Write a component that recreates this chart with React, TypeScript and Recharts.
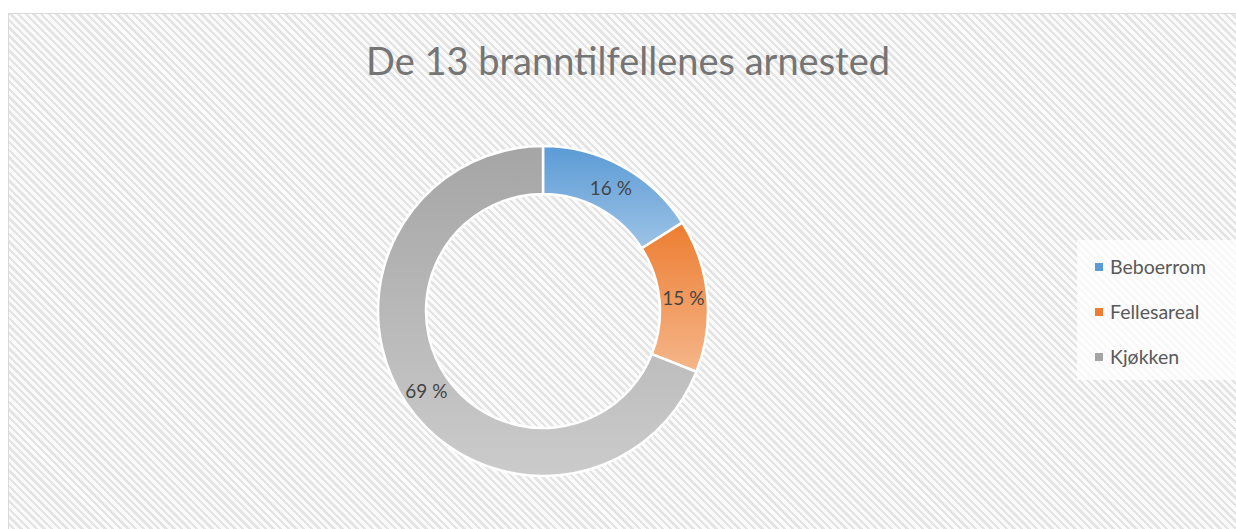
import React from "react";
import { PieChart, Pie, Cell, Legend } from "recharts";

const categories = ["Beboerrom", "Fellesareal", "Kjøkken"];
const shares = [16, 15, 69];
const labels = ["16 %", "15 %", "69 %"];

const topColors = ["#5b9bd5", "#ed7d31", "#a5a5a5"];
const bottomColors = ["#9dc3e6", "#f5b68a", "#cbcbcb"];

const data = categories.map((name, i) => ({ name, value: shares[i], label: labels[i] }));

const RADIAN = Math.PI / 180;
const FONT = "Lato, 'Open Sans', sans-serif";

function SliceLabel(props: any): JSX.Element {
  const { cx, cy, midAngle, innerRadius, outerRadius, index } = props;
  const r = (innerRadius + outerRadius) / 2;
  const x = cx + r * Math.cos(-midAngle * RADIAN);
  const y = cy + r * Math.sin(-midAngle * RADIAN);
  return (
    <text x={x} y={y} fill="#454545" fontSize={19} fontFamily={FONT} textAnchor="middle" dominantBaseline="central">
      {labels[index]}
    </text>
  );
}

function LegendBox({ payload }: any): JSX.Element {
  return (
    <div style={{ background: "rgba(255,255,255,0.75)", padding: "4px 10px 4px 18px", height: 140, boxSizing: "border-box" }}>
      {(payload || []).map((p: any, i: number) => (
        <div key={p.value} style={{ display: "flex", alignItems: "center", height: 45, fontSize: 19.5, color: "#595959", fontFamily: FONT }}>
          <span style={{ width: 8, height: 8, background: topColors[i], marginRight: 7, display: "inline-block" }} />
          {p.value}
        </div>
      ))}
    </div>
  );
}

export default function App(): JSX.Element {
  return (
    <div
      style={{
        position: "fixed",
        left: 8,
        top: 13,
        width: 1228,
        height: 516,
        borderTop: "1px solid #d9d9d9",
        borderLeft: "1px solid #d9d9d9",
        backgroundColor: "#fbfbfb",
        backgroundImage: "repeating-linear-gradient(45deg, #fbfbfb 0px, #fbfbfb 3px, #e4e4e4 3px, #e4e4e4 5.4px)",
        overflow: "hidden",
      }}
    >
      <div
        style={{
          position: "absolute",
          left: 0,
          width: 1238,
          top: 23,
          textAlign: "center",
          fontFamily: FONT,
          fontSize: 38,
          color: "#757575",
          paddingLeft: 0,
          boxSizing: "border-box",
        }}
      >
        De 13 branntilfellenes arnested
      </div>
      <div style={{ position: "absolute", left: 0, top: 0 }}>
        <PieChart width={1228} height={516} margin={{ top: 0, right: 0, bottom: 0, left: 0 }}>
          <defs>
            {topColors.map((c, i) => (
              <linearGradient key={c} id={`slice${i}`} x1="0" y1="0" x2="0" y2="1">
                <stop offset="0%" stopColor={c} />
                <stop offset="100%" stopColor={bottomColors[i]} />
              </linearGradient>
            ))}
          </defs>
          <Pie
            data={data}
            dataKey="value"
            nameKey="name"
            cx={534}
            cy={297}
            innerRadius={117}
            outerRadius={165}
            startAngle={90}
            endAngle={-270}
            stroke="#ffffff"
            strokeWidth={2.5}
            label={SliceLabel}
            labelLine={false}
            isAnimationActive={false}
          >
            {data.map((d, i) => (
              <Cell key={d.name} fill={`url(#slice${i})`} />
            ))}
          </Pie>
          <Legend
            layout="vertical"
            verticalAlign="top"
            align="right"
            content={LegendBox}
            wrapperStyle={{ top: 226, right: 0, width: 160 }}
          />
        </PieChart>
      </div>
    </div>
  );
}
